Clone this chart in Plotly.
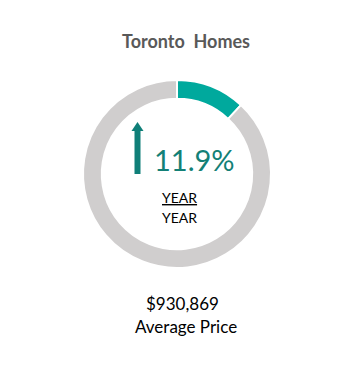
import plotly.graph_objects as go

title = "Toronto  Homes"
labels = ["Change", "Remainder"]
values = [11.9, 88.1]
colors = ["#00A99D", "#D0CECE"]
pct_text = "11.9%"
price_text = "$930,869"
price_label = "Average Price"

W, H = 364, 366
OFF = 8  # page body margin
cx, cy, r = 177 - OFF, 174 - OFF, 94

fig = go.Figure(go.Pie(
    labels=labels, values=values, hole=0.80, sort=False, direction="clockwise",
    rotation=0, marker=dict(colors=colors, line=dict(color="white", width=2)),
    textinfo="none", hoverinfo="skip", showlegend=False,
    domain=dict(x=[(cx - r) / W, (cx + r) / W], y=[(H - cy - r) / H, (H - cy + r) / H]),
))

def px(x):
    return (x - OFF) / W

def py(y):
    return 1 - (y - OFF) / H

font = "Lato, Open Sans, Arial"

def txt(x, y, s, size, color):
    fig.add_annotation(x=px(x), y=py(y), xref="paper", yref="paper", text=s,
                       xanchor="center", yanchor="middle", showarrow=False,
                       font=dict(family=font, size=size, color=color))

txt(185.5, 41, "<b>" + title + "</b>", 18, "#595959")
txt(194, 159, pct_text, 29, "#138076")
txt(179, 197, "<u>YEAR</u>", 14, "black")
txt(179, 217, "YEAR", 14, "black")
txt(182.5, 303, price_text, 17, "black")
txt(185.5, 326, price_label, 17, "black")

arrow_color = "#0F7F78"
fig.add_shape(type="rect", xref="paper", yref="paper", x0=px(134.5), x1=px(140.5),
              y0=py(174), y1=py(130), fillcolor=arrow_color, line=dict(width=0))
fig.add_shape(type="path", xref="paper", yref="paper",
              path=f"M {px(131.5)} {py(131)} L {px(137.5)} {py(122)} L {px(143.5)} {py(131)} Z",
              fillcolor=arrow_color, line=dict(width=0))

fig.update_layout(width=W, height=H, margin=dict(l=0, r=0, t=0, b=0),
                  paper_bgcolor="white", plot_bgcolor="white")
fig.write_html("out.html")
